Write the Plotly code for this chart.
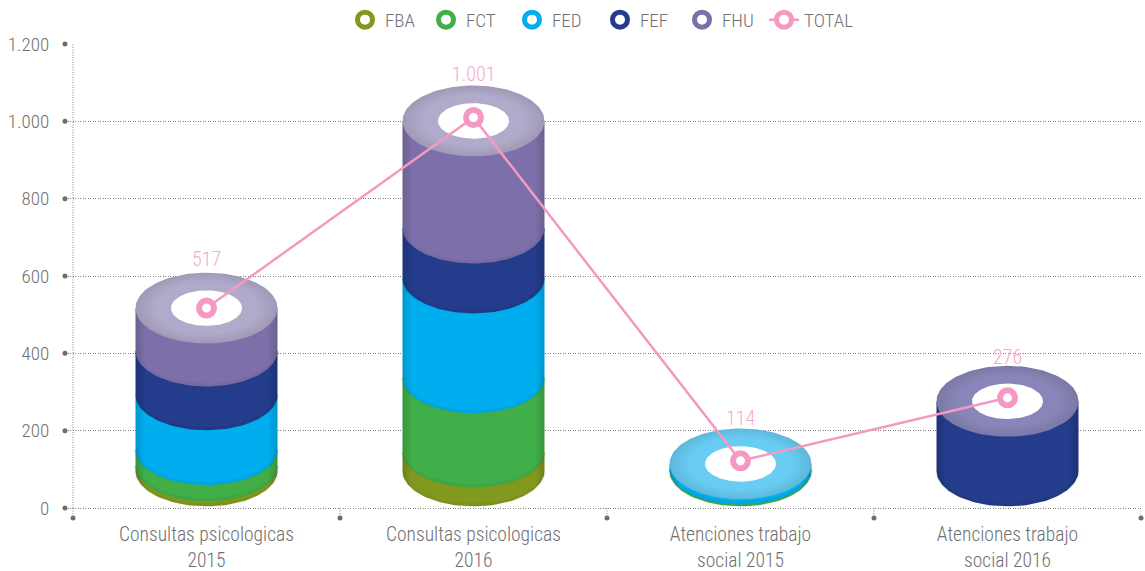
import numpy as np
import plotly.graph_objects as go

categories = ["Consultas psicologicas<br>2015", "Consultas psicologicas<br>2016",
              "Atenciones trabajo<br>social 2015", "Atenciones trabajo<br>social 2016"]
FBA = [109, 145, 0, 0]
FCT = [42, 192, 101, 0]
FED = [142, 258, 13, 0]
FEF = [113, 129, 0, 276]
FHU = [111, 277, 0, 0]
series_names = ["FBA", "FCT", "FED", "FEF", "FHU"]
series_values = [FBA, FCT, FED, FEF, FHU]
series_colors = ["#82991F", "#40AE49", "#00AEEF", "#233C8B", "#7D6FA9"]
total_marks = [517, 1010, 122, 285]
total_labels = ["517", "1.001", "114", "276"]
total_heights = [517, 1001, 114, 276]
top_colors = ["#B1ABCB", "#B1ABCB", "#69CCF3", "#8886B8"]
y_ticks = [0, 200, 400, 600, 800, 1000, 1200]
y_tick_labels = ["0", "200", "400", "600", "800", "1.000", "1.200"]

W, H = 1145, 571
LEFT0, RIGHT4, TOP1200, BOTTOM0 = 73, 1141, 43.7, 508.3   # pixel frame of the value area
PX_X = (RIGHT4 - LEFT0) / 4
PX_Y = (BOTTOM0 - TOP1200) / 1200
X_MIN = -8 / PX_X
Y_MIN = -10 / PX_Y
ML, MR, MT, MB = LEFT0 - 8, W - RIGHT4, TOP1200, H - BOTTOM0 - 10
RX = 71 / PX_X
RY = 35.5 / PX_Y
BASE = 96
FONT = "Roboto"
GREY = "#6F7073"
PINK = "#F49AC2"


def shade(hex_color, f):
    r, g, b = (int(hex_color[i:i + 2], 16) for i in (1, 3, 5))
    return f"rgb({int(r * f)},{int(g * f)},{int(b * f)})"


def ellipse(cx, cy, rx, ry):
    t = np.linspace(0, 2 * np.pi, 121)
    return cx + rx * np.cos(t), cy + ry * np.sin(t)


def side(cx, lo, hi):
    t = np.linspace(np.pi, 2 * np.pi, 61)
    xs = cx + RX * np.cos(t)
    ys = lo + RY * np.sin(t)
    return np.r_[xs, cx + RX, cx - RX, xs[0]], np.r_[ys, hi, hi, ys[0]]


fig = go.Figure()

# dotted axis stubs and end dots
stub_x, stub_y = [], []
for i in range(5):
    stub_x += [i, i, None]
    stub_y += [0, Y_MIN, None]
stub_x += [0, 0]
stub_y += [0, 1200]
fig.add_trace(go.Scatter(
    x=stub_x, y=stub_y, mode="lines", line=dict(width=1, color="#808184", dash="1px,1.5px"),
    showlegend=False, hoverinfo="skip"))
fig.add_trace(go.Scatter(
    x=[X_MIN] * len(y_ticks) + list(range(5)), y=y_ticks + [Y_MIN] * 5, mode="markers",
    marker=dict(size=5, color="#6D6E71"), cliponaxis=False, showlegend=False, hoverinfo="skip"))

for i in range(len(categories)):
    cx = i + 0.5
    running = 0
    for name, vals, col in zip(series_names, series_values, series_colors):
        v = vals[i]
        if v == 0:
            continue
        lo = max(BASE, running)
        running += v
        xs, ys = side(cx, lo, running)
        fig.add_trace(go.Scatter(
            x=xs, y=ys, mode="lines", line=dict(width=0), fill="toself", showlegend=False,
            hoverinfo="skip", name=name,
            fillgradient=dict(type="horizontal", colorscale=[
                [0, shade(col, 0.86)], [0.07, col], [0.93, col], [1, shade(col, 0.86)]]),
        ))
        t = np.linspace(np.pi, 2 * np.pi, 61)
        fig.add_trace(go.Scatter(
            x=cx + RX * np.cos(t), y=lo + (RY - 1.5 / PX_Y) * np.sin(t), mode="lines",
            line=dict(width=3.5, color="rgba(0,0,0,0.045)"), showlegend=False, hoverinfo="skip",
        ))
    ex, ey = ellipse(cx, total_heights[i], RX, RY)
    fig.add_trace(go.Scatter(
        x=ex, y=ey, mode="lines", line=dict(width=0), fill="toself", showlegend=False, hoverinfo="skip",
        fillgradient=dict(type="radial", colorscale=[
            [0, top_colors[i]], [0.72, top_colors[i]], [1, shade(top_colors[i], 0.9)]]),
    ))
    ex, ey = ellipse(cx, total_heights[i], RX / 2, RY / 2)
    fig.add_trace(go.Scatter(
        x=ex, y=ey, mode="lines", line=dict(width=0), fill="toself", fillcolor="white",
        showlegend=False, hoverinfo="skip",
    ))

legend_widths = [42, 47, 49, 43, 43]
for name, col, lw in zip(series_names, series_colors, legend_widths):
    fig.add_trace(go.Scatter(
        x=[None], y=[None], mode="markers", name=name, legendwidth=lw,
        marker=dict(size=15, color="white", line=dict(width=6, color=col))))

fig.add_trace(go.Scatter(
    x=[i + 0.5 for i in range(4)], y=total_marks, mode="lines+markers", name="TOTAL", legendwidth=50,
    line=dict(color=PINK, width=2.5),
    marker=dict(size=15, color="white", line=dict(width=6, color=PINK)),
    cliponaxis=False, hoverinfo="skip"))

label_shift = [49, 47, 46, 44]
for i, txt in enumerate(total_labels):
    fig.add_annotation(x=i + 0.5, y=total_heights[i], text=txt, showarrow=False, yshift=label_shift[i],
                       font=dict(family=FONT, size=20, weight=300, color="#F7A9CC"))

fig.update_layout(
    width=W, height=H, margin=dict(l=ML, r=MR, t=MT, b=MB, autoexpand=False),
    paper_bgcolor="white", plot_bgcolor="white", showlegend=True, hovermode=False,
    font=dict(family=FONT, size=20, color=GREY),
    legend=dict(orientation="h", x=(351 - ML) / (W - ML - MR), xanchor="left", y=1.011, yanchor="bottom",
                font=dict(family=FONT, size=19, weight=300, color=GREY), indentation=-6,
                bgcolor="rgba(0,0,0,0)", tracegroupgap=0),
    xaxis=dict(range=[X_MIN, 4], tickmode="array", tickvals=[i + 0.5 for i in range(4)], ticktext=categories,
               ticks="outside", ticklen=1, ticklabelstandoff=-2, tickcolor="rgba(0,0,0,0)", showgrid=False,
               zeroline=False, showline=False, automargin=False,
               tickfont=dict(family=FONT, size=19.5, weight=300, color=GREY)),
    yaxis=dict(range=[Y_MIN, 1200], tickmode="array", tickvals=y_ticks, ticktext=y_tick_labels,
               ticks="outside", ticklen=11, tickcolor="rgba(0,0,0,0)", showgrid=True, griddash="1px,1.5px",
               gridcolor="#808184", gridwidth=1, zeroline=False, showline=False, automargin=False,
               tickfont=dict(family=FONT, size=19, weight=300, color=GREY)),
)

fig.write_html("out.html", config={"displayModeBar": False},
               post_script="var b=document.body.style;b.margin='0';b.overflow='hidden';b.fontStretch='75%';")
